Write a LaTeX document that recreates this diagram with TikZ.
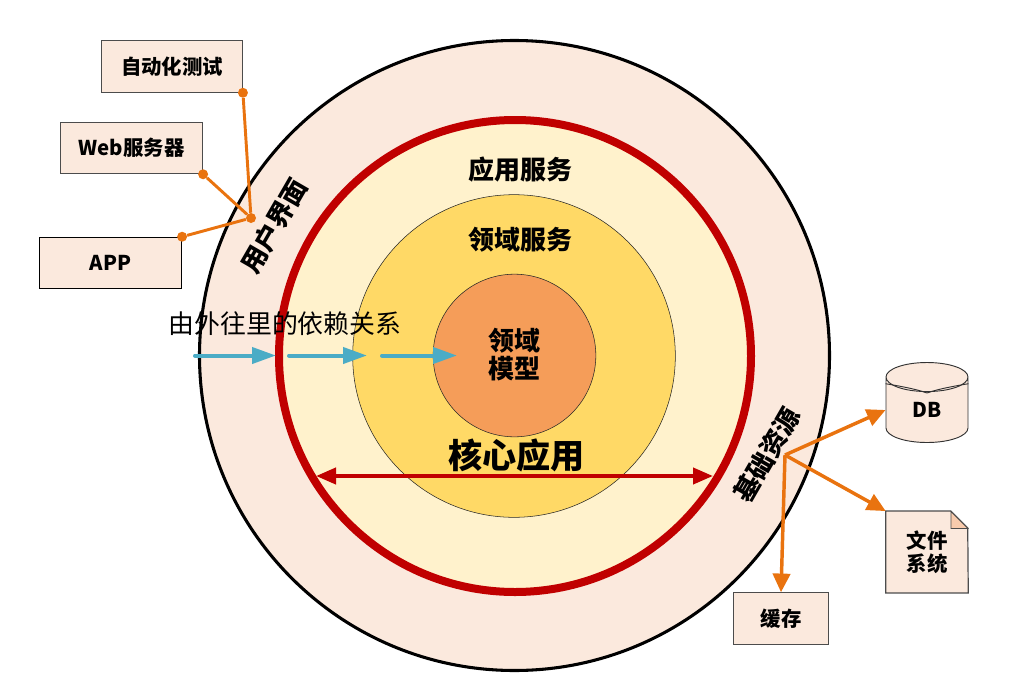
\documentclass[tikz,border=0pt]{standalone}
\usepackage{fontspec}
\setmainfont{Noto Sans CJK SC}
\usepackage{xcolor}
\usetikzlibrary{arrows.meta,shapes.geometric}

\definecolor{ringpeach}{HTML}{FBE9DD}
\definecolor{ringcream}{HTML}{FFF2CC}
\definecolor{ringyellow}{HTML}{FFD966}
\definecolor{ringorange}{HTML}{F59D59}
\definecolor{linkorange}{HTML}{E9730F}
\definecolor{flowblue}{HTML}{4BACC6}
\definecolor{coredred}{HTML}{C00000}
\definecolor{foldpeach}{HTML}{F8CBAD}

\tikzset{
  ring/.style={circle,inner sep=0pt,draw=black!85,line width=0.4pt},
  extbox/.style={rectangle,draw=black!70,fill=ringpeach,line width=0.9pt,inner sep=0pt,
    font=\fontsize{15.3}{18}\selectfont\bfseries,align=center},
  ringlabel/.style={font=\fontsize{19.5}{21}\selectfont\bfseries,align=center,inner sep=0pt},
  flowarrow/.style={draw=flowblue,line width=3pt,line cap=round,
    -{Triangle[length=18pt,width=12pt]}},
  uselink/.style={draw=linkorange,line width=2.2pt},
  reslink/.style={draw=linkorange,line width=2.6pt,-{Triangle[length=14pt,width=13pt]}},
  dot/.style={circle,fill=linkorange,inner sep=0pt,minimum size=7.5pt}
}

\begin{document}
\begin{tikzpicture}[x=0.75pt,y=-0.75pt]
  \useasboundingbox (0,0) rectangle (1015,693);

  % rings
  \node[ring,fill=ringpeach,draw=black,line width=2.3pt,minimum size=472.5pt] (outer) at (514.5,355.5) {};
  \node[ring,fill=ringcream,draw=coredred,line width=6pt,minimum size=354pt] (core) at (515,356) {};
  \node[ring,fill=ringyellow,minimum size=242pt] (domain) at (514,356) {};
  \node[ring,fill=ringorange,minimum size=122pt] (model) at (514.5,355.5) {};

  % ring labels
  \node[ringlabel] (appsvc) at (520,170) {应用服务};
  \node[ringlabel] (domsvc) at (520,240) {领域服务};
  \node[ringlabel] (modeltxt) at (514,355) {领域\\模型};
  \node[ringlabel,rotate=60] (uitxt) at (274,226) {用户界面};
  \node[ringlabel,rotate=60] (infratxt) at (767,455) {基础资源};

  % core span
  \coordinate (spanl) at (316,476);
  \coordinate (spanr) at (713,476);
  \draw[coredred,line width=3pt,{Triangle[length=15pt,width=12pt]}-{Triangle[length=15pt,width=12pt]}] (spanl) -- (spanr);
  \node[ringlabel,font=\fontsize{25.6}{30}\selectfont\bfseries] (coretxt) at (516.5,455) {核心应用};

  % dependency direction
  \node[inner sep=0pt,font=\fontsize{19.4}{24}\selectfont] (flowtxt) at (285,324) {由外往里的依赖关系};
  \coordinate (f1a) at (195,355.5);
  \coordinate (f1b) at (276,355.5);
  \coordinate (f2a) at (289,355.5);
  \coordinate (f2b) at (367,355.5);
  \coordinate (f3a) at (382,355.5);
  \coordinate (f3b) at (457,355.5);
  \draw[flowarrow] (f1a) -- (f1b);
  \draw[flowarrow] (f2a) -- (f2b);
  \draw[flowarrow] (f3a) -- (f3b);

  % clients
  \node[extbox,minimum width=105.5pt,minimum height=38.5pt] (autotest) at (172,66.5) {自动化测试};
  \node[extbox,minimum width=106.5pt,minimum height=38.5pt] (webserver) at (131.5,148) {Web服务器};
  \node[extbox,draw=black,minimum width=106.5pt,minimum height=38.5pt] (app) at (110.5,263) {APP};
  \node[dot] (uihub) at (251,218) {};
  \node[dot] (d1) at (autotest.south east) {};
  \node[dot] (d2) at (webserver.south east) {};
  \node[dot] (d3) at (app.north east) {};
  \draw[uselink] (d1) -- (uihub);
  \draw[uselink] (d2) -- (uihub);
  \draw[uselink] (d3) -- (uihub);

  % resources
  \node[extbox,minimum width=71pt,minimum height=38.5pt] (cache) at (781,618.5) {缓存};
  \node[cylinder,shape border rotate=90,aspect=1,draw=black!80,fill=ringpeach,line width=0.7pt,
    inner sep=0pt,minimum width=61.5pt,minimum height=60pt,font=\fontsize{15.3}{18}\selectfont\bfseries] (db) at (927,410) {DB};
  \draw[black!80,line width=0.7pt] ([yshift=-5pt]db.before top) .. controls (960,396) and (894,396) .. ([yshift=-5pt]db.after top);
  \node[minimum width=61.5pt,minimum height=61pt,inner sep=0pt] (files) at (927,552) {};
  \draw[extbox] (files.north west) -- ++(65,0) -- ++(17,17) -- (files.south east) -- (files.south west) -- cycle;
  \draw[black!70,fill=foldpeach,line width=0.6pt] (951,511.5) -- ++(0,17) -- ++(17,0) -- cycle;
  \node[ringlabel,font=\fontsize{15.3}{17.5}\selectfont\bfseries] (filestxt) at (927,552) {文件\\系统};
  \coordinate (reshub) at (785,455);
  \draw[reslink] (reshub) -- (db.west);
  \draw[reslink] (reshub) -- (files.north west);
  \draw[reslink] (reshub) -- (cache.north);
\end{tikzpicture}
\end{document}
